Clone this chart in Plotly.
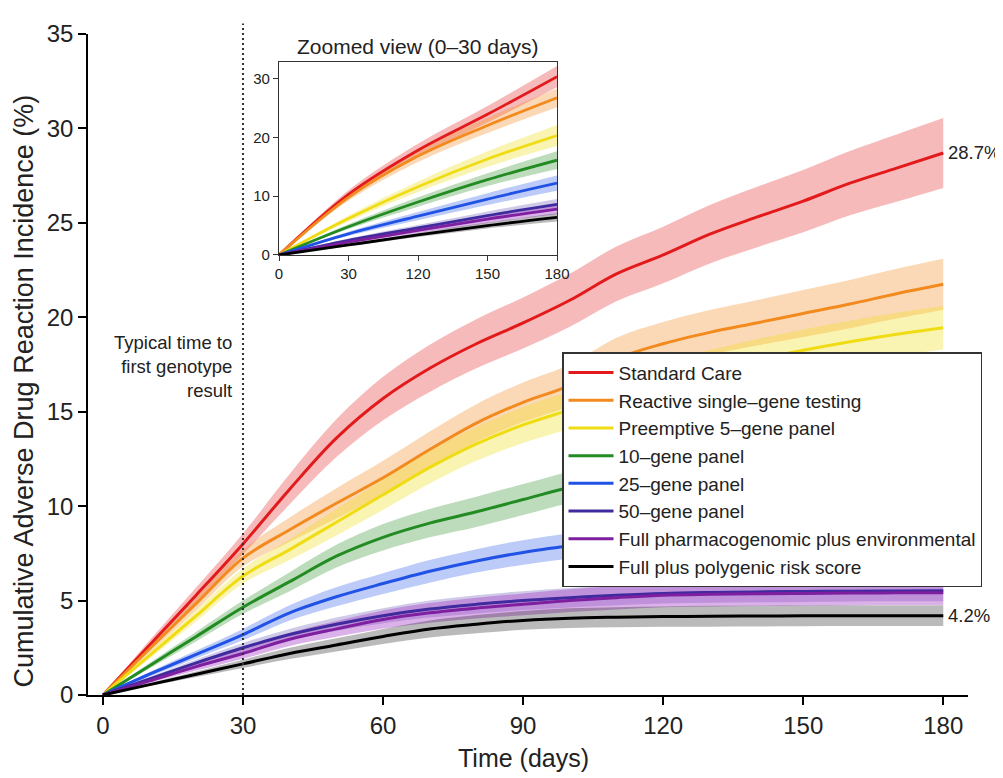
import plotly.graph_objects as go

# ---------------- data ----------------
days = [0, 10, 20, 30, 40, 50, 60, 70, 80, 90, 100, 110, 120, 130, 140, 150, 160, 170, 180]

std_care = [0, 2.65, 5.3, 8.0, 10.9, 13.6, 15.7, 17.3, 18.6, 19.7, 20.9, 22.3, 23.3, 24.4, 25.3, 26.15, 27.1, 27.9, 28.7]
reactive = [0, 2.45, 4.85, 7.25, 8.75, 10.15, 11.5, 13.0, 14.4, 15.5, 16.4, 17.8, 18.6, 19.2, 19.7, 20.2, 20.7, 21.25, 21.75]
preempt5 = [0, 2.1, 4.2, 6.3, 7.7, 9.15, 10.6, 12.05, 13.3, 14.3, 15.1, 15.9, 16.6, 17.2, 17.75, 18.25, 18.7, 19.1, 19.45]
panel10 = [0, 1.55, 3.1, 4.65, 6.0, 7.35, 8.35, 9.1, 9.7, 10.35, 11.0, 11.5, 11.9, 12.2, 12.5, 12.75, 12.95, 13.15, 13.3]
panel25 = [0, 1.1, 2.15, 3.2, 4.35, 5.2, 5.9, 6.55, 7.1, 7.55, 7.9, 8.2, 8.45, 8.65, 8.85, 9.0, 9.1, 9.2, 9.3]
panel50 = [0, 0.85, 1.7, 2.5, 3.2, 3.75, 4.2, 4.55, 4.8, 5.0, 5.15, 5.28, 5.38, 5.43, 5.46, 5.48, 5.5, 5.51, 5.52]
full_env = [0, 0.75, 1.5, 2.2, 2.95, 3.5, 4.0, 4.35, 4.6, 4.8, 5.0, 5.15, 5.28, 5.33, 5.36, 5.38, 5.4, 5.41, 5.42]
full_prs = [0, 0.55, 1.1, 1.65, 2.2, 2.65, 3.1, 3.5, 3.75, 3.95, 4.07, 4.12, 4.15, 4.17, 4.18, 4.19, 4.2, 4.2, 4.2]

# half-widths of the shaded uncertainty bands
std_care_ci = [0, 0.25, 0.4, 0.55, 0.8, 1.0, 1.15, 1.25, 1.3, 1.35, 1.4, 1.45, 1.5, 1.55, 1.6, 1.65, 1.7, 1.78, 1.85]
reactive_ci = [0, 0.2, 0.35, 0.45, 0.65, 0.8, 0.9, 0.95, 1.0, 1.05, 1.1, 1.12, 1.15, 1.18, 1.2, 1.25, 1.28, 1.32, 1.35]
preempt5_ci = [0, 0.18, 0.3, 0.4, 0.55, 0.7, 0.8, 0.85, 0.9, 0.95, 1.0, 1.02, 1.05, 1.07, 1.09, 1.1, 1.12, 1.14, 1.15]
panel10_ci = [0, 0.15, 0.25, 0.35, 0.5, 0.6, 0.7, 0.75, 0.8, 0.82, 0.84, 0.86, 0.87, 0.88, 0.89, 0.9, 0.9, 0.9, 0.9]
panel25_ci = [0, 0.12, 0.2, 0.3, 0.4, 0.5, 0.55, 0.6, 0.62, 0.65, 0.67, 0.68, 0.69, 0.7, 0.7, 0.7, 0.7, 0.7, 0.7]
panel50_ci = [0, 0.1, 0.18, 0.25, 0.3, 0.35, 0.4, 0.45, 0.48, 0.5, 0.52, 0.53, 0.54, 0.55, 0.55, 0.55, 0.55, 0.55, 0.55]
full_env_ci = [0, 0.1, 0.2, 0.28, 0.35, 0.42, 0.48, 0.52, 0.55, 0.58, 0.6, 0.62, 0.63, 0.64, 0.65, 0.65, 0.65, 0.65, 0.65]
full_prs_ci = [0, 0.08, 0.15, 0.22, 0.3, 0.35, 0.4, 0.45, 0.48, 0.5, 0.52, 0.53, 0.54, 0.55, 0.55, 0.55, 0.55, 0.55, 0.55]

series_names = [
    "Standard Care",
    "Reactive single–gene testing",
    "Preemptive 5–gene panel",
    "10–gene panel",
    "25–gene panel",
    "50–gene panel",
    "Full pharmacogenomic plus environmental",
    "Full plus polygenic risk score",
]

# inset ("Zoomed view") data
inset_x = [0, 45, 90, 135, 180]
inset_tick_labels = ["0", "30", "120", "150", "180"]
inset_std_care = [0, 10.3, 17.8, 23.9, 30.3]
inset_reactive = [0, 9.8, 16.8, 22.0, 26.7]
inset_preempt5 = [0, 6.2, 11.6, 16.3, 20.3]
inset_panel10 = [0, 4.8, 9.0, 12.8, 16.1]
inset_panel25 = [0, 3.6, 6.6, 9.5, 12.2]
inset_panel50 = [0, 2.5, 4.6, 6.7, 8.6]
inset_full_env = [0, 2.2, 4.2, 6.1, 7.8]
inset_full_prs = [0, 1.7, 3.4, 5.0, 6.4]

inset_std_care_ci = [0, 0.7, 1.1, 1.4, 1.8]
inset_reactive_ci = [0, 0.6, 1.0, 1.3, 1.6]
inset_preempt5_ci = [0, 0.5, 0.9, 1.3, 1.8]
inset_panel10_ci = [0, 0.4, 0.8, 1.1, 1.5]
inset_panel25_ci = [0, 0.35, 0.7, 1.0, 1.3]
inset_panel50_ci = [0, 0.3, 0.5, 0.7, 0.9]
inset_full_env_ci = [0, 0.25, 0.45, 0.65, 0.85]
inset_full_prs_ci = [0, 0.2, 0.35, 0.5, 0.7]

end_labels = ["28.7%", "4.2%"]

# ---------------- styles ----------------
line_colors = ["#E31A1C", "#F28A1E", "#F0DC14", "#228B22", "#2152E6", "#3F2A9E", "#7E1FA0", "#000000"]
band_colors = [
    "rgba(227,26,28,0.30)",
    "rgba(242,138,30,0.32)",
    "rgba(240,220,20,0.32)",
    "rgba(34,139,34,0.30)",
    "rgba(33,82,230,0.30)",
    "rgba(63,42,158,0.25)",
    "rgba(165,60,200,0.40)",
    "rgba(0,0,0,0.27)",
]
FONT = "Liberation Sans, Arial, Helvetica, sans-serif"
SMOOTH = 1.0

main_vals = [std_care, reactive, preempt5, panel10, panel25, panel50, full_env, full_prs]
main_cis = [std_care_ci, reactive_ci, preempt5_ci, panel10_ci, panel25_ci, panel50_ci, full_env_ci, full_prs_ci]
inset_vals = [inset_std_care, inset_reactive, inset_preempt5, inset_panel10, inset_panel25,
              inset_panel50, inset_full_env, inset_full_prs]
inset_cis = [inset_std_care_ci, inset_reactive_ci, inset_preempt5_ci, inset_panel10_ci, inset_panel25_ci,
             inset_panel50_ci, inset_full_env_ci, inset_full_prs_ci]

fig = go.Figure()


def add_bands(xs, vals, cis, xa, ya):
    for v, c, fc in zip(vals, cis, band_colors):
        lo = [a - b for a, b in zip(v, c)]
        hi = [a + b for a, b in zip(v, c)]
        fig.add_trace(go.Scatter(x=xs, y=lo, mode="lines", line=dict(width=0, shape="spline", smoothing=SMOOTH),
                                 showlegend=False, hoverinfo="skip", xaxis=xa, yaxis=ya))
        fig.add_trace(go.Scatter(x=xs, y=hi, mode="lines", line=dict(width=0, shape="spline", smoothing=SMOOTH),
                                 fill="tonexty", fillcolor=fc, showlegend=False, hoverinfo="skip",
                                 xaxis=xa, yaxis=ya))


# main bands, then main lines
add_bands(days, main_vals, main_cis, "x", "y")
for name, v, col in zip(series_names, main_vals, line_colors):
    fig.add_trace(go.Scatter(x=days, y=v, mode="lines", name=name,
                             line=dict(color=col, width=3, shape="spline", smoothing=SMOOTH),
                             xaxis="x", yaxis="y"))

# inset bands and lines
add_bands(inset_x, inset_vals, inset_cis, "x2", "y2")
for name, v, col in zip(series_names, inset_vals, line_colors):
    fig.add_trace(go.Scatter(x=inset_x, y=v, mode="lines", name=name, showlegend=False,
                             line=dict(color=col, width=2.8, shape="spline", smoothing=SMOOTH),
                             xaxis="x2", yaxis="y2"))

# ---------------- layout ----------------
# the page body adds an 8px offset; all pixel targets below are in screenshot pixels
OFF = 8
W, H = 995, 770
ML, MR, MT, MB = 80, 35, 14, 83
PW, PH = W - ML - MR, H - MT - MB
PLOT_L = OFF + ML           # screen x of plot-area left edge
PLOT_B = OFF + H - MB       # screen y of plot-area bottom edge


def px_to_paper_x(px):
    return (px - PLOT_L) / PW


def px_to_paper_y(py):
    return (PLOT_B - py) / PH


axis_common = dict(showline=True, linecolor="black", linewidth=1.5, ticks="outside", ticklen=8,
                   tickwidth=1.5, tickcolor="black", showgrid=False, zeroline=False,
                   tickfont=dict(family=FONT, size=24, color="#222"))

fig.update_layout(
    width=W, height=H,
    margin=dict(l=ML, r=MR, t=MT, b=MB),
    paper_bgcolor="white", plot_bgcolor="white",
    font=dict(family=FONT, color="#222"),
    xaxis=dict(domain=[0, 1], range=[-3.2, 185.3], tickvals=[0, 30, 60, 90, 120, 150, 180],
               anchor="y", **axis_common),
    yaxis=dict(domain=[0, 1], range=[0, 35], tickvals=[0, 5, 10, 15, 20, 25, 30, 35],
               anchor="x", **axis_common),
    xaxis2=dict(domain=[px_to_paper_x(279), px_to_paper_x(557)], range=[0, 180], anchor="y2",
                tickvals=inset_x, ticktext=inset_tick_labels, showline=True, mirror=True,
                linecolor="#333", linewidth=1.2, ticks="outside", ticklen=5, tickcolor="#333",
                showgrid=False, zeroline=False, tickfont=dict(family=FONT, size=15, color="#222")),
    yaxis2=dict(domain=[px_to_paper_y(247), px_to_paper_y(51)], range=[0, 32.7], anchor="x2",
                tickvals=[0, 10, 20, 30], showline=True, mirror=True,
                linecolor="#333", linewidth=1.2, ticks="outside", ticklen=5, tickcolor="#333",
                showgrid=False, zeroline=False, tickfont=dict(family=FONT, size=15, color="#222")),
    legend=dict(x=px_to_paper_x(562), y=px_to_paper_y(346), xanchor="left", yanchor="top",
                bgcolor="white", bordercolor="#333", borderwidth=1.5,
                font=dict(family=FONT, size=19, color="#222"), itemwidth=45,
                traceorder="normal"),
    showlegend=True,
)

# dotted marker at 30 days
fig.add_shape(type="line", xref="x", yref="paper", x0=30, x1=30, y0=0, y1=1.016,
              line=dict(color="#333", width=2, dash="2px,3px"), layer="above")

annotations = [
    dict(text="Typical time to<br>first genotype<br>result", x=30, y=17.4, xref="x", yref="y",
         xanchor="right", yanchor="middle", xshift=-9, align="right", showarrow=False,
         font=dict(family=FONT, size=18.5, color="#222")),
    dict(text=end_labels[0], x=days[-1], y=std_care[-1], xref="x", yref="y", xanchor="left",
         yanchor="middle", xshift=3, showarrow=False, font=dict(family=FONT, size=18.5, color="#222")),
    dict(text=end_labels[1], x=days[-1], y=full_prs[-1], xref="x", yref="y", xanchor="left",
         yanchor="middle", xshift=3, showarrow=False, font=dict(family=FONT, size=18.5, color="#222")),
    dict(text="Zoomed view (0–30 days)", x=px_to_paper_x(418), y=px_to_paper_y(35), xref="paper",
         yref="paper", xanchor="center", yanchor="middle", showarrow=False,
         font=dict(family=FONT, size=21, color="#222")),
    dict(text="Time (days)", x=0.5 * (px_to_paper_x(103) + px_to_paper_x(943)), y=0, xref="paper",
         yref="paper", xanchor="center", yanchor="middle", yshift=-63, showarrow=False,
         font=dict(family=FONT, size=25, color="#222")),
    dict(text="Cumulative Adverse Drug Reaction Incidence (%)", x=0, y=px_to_paper_y(386),
         xref="paper", yref="paper", xanchor="center", yanchor="middle", xshift=24 - PLOT_L,
         textangle=-90, showarrow=False, font=dict(family=FONT, size=27, color="#222")),
]
fig.update_layout(annotations=annotations)

fig.write_html("out.html")
